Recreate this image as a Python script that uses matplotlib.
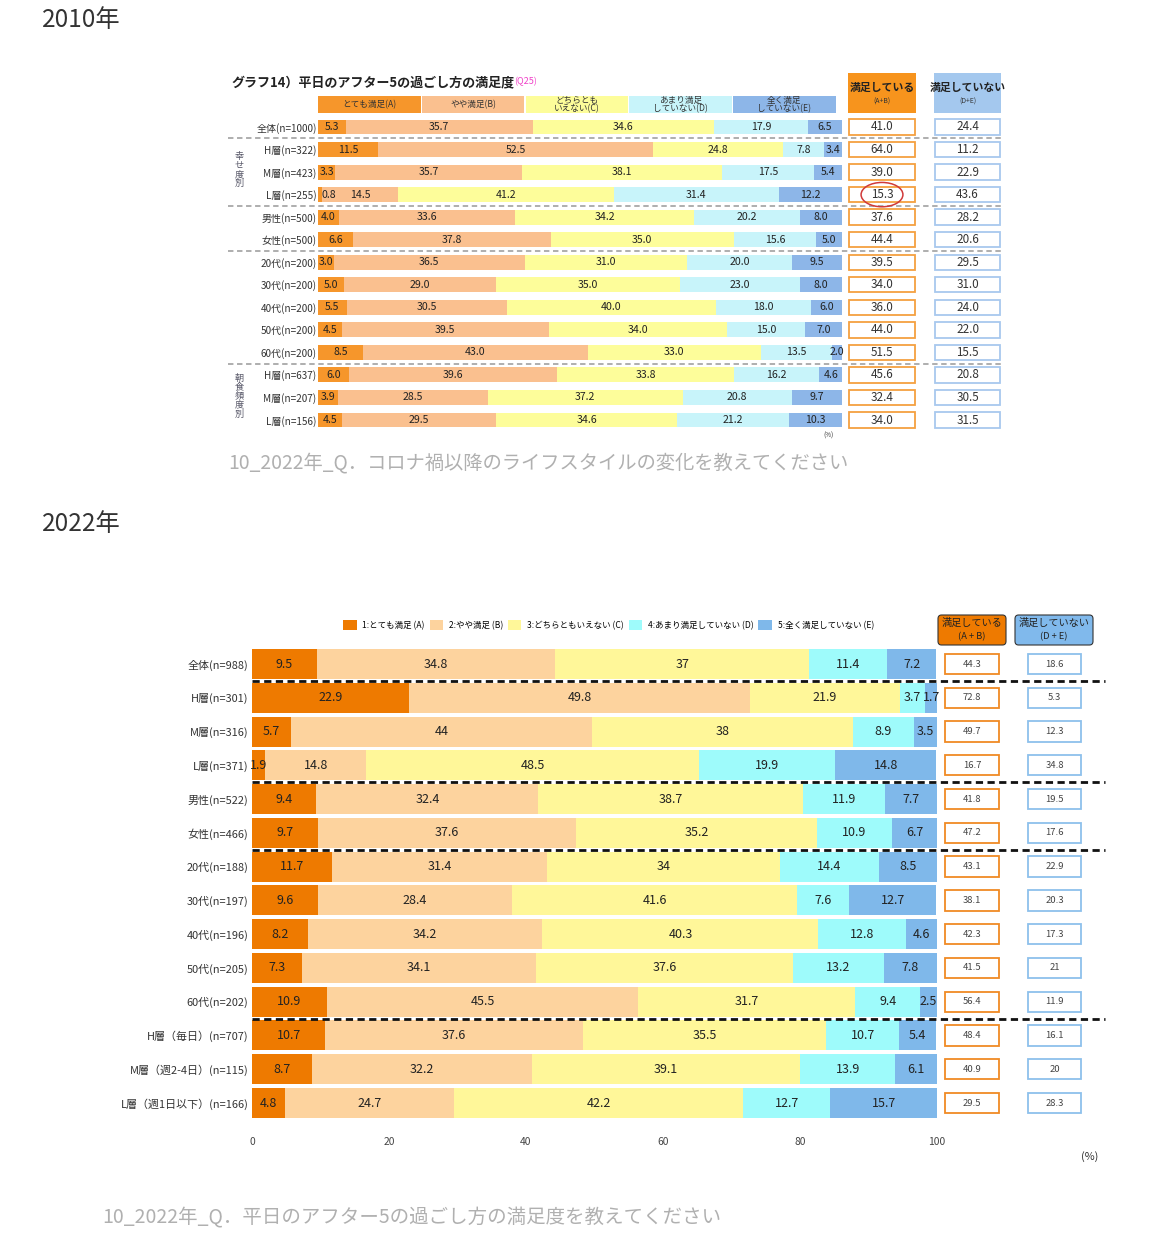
import numpy as np
import matplotlib.pyplot as plt
from matplotlib.patches import FancyBboxPatch, Rectangle, Ellipse

plt.rcParams['font.family'] = ['Noto Sans CJK JP', 'DejaVu Sans']

# ---------------- data: 2010 ----------------
cats_2010 = ["全体(n=1000)", "H層(n=322)", "M層(n=423)", "L層(n=255)",
             "男性(n=500)", "女性(n=500)", "20代(n=200)", "30代(n=200)",
             "40代(n=200)", "50代(n=200)", "60代(n=200)",
             "H層(n=637)", "M層(n=207)", "L層(n=156)"]
a_2010 = [5.3, 11.5, 3.3, 0.8, 4.0, 6.6, 3.0, 5.0, 5.5, 4.5, 8.5, 6.0, 3.9, 4.5]
b_2010 = [35.7, 52.5, 35.7, 14.5, 33.6, 37.8, 36.5, 29.0, 30.5, 39.5, 43.0, 39.6, 28.5, 29.5]
c_2010 = [34.6, 24.8, 38.1, 41.2, 34.2, 35.0, 31.0, 35.0, 40.0, 34.0, 33.0, 33.8, 37.2, 34.6]
d_2010 = [17.9, 7.8, 17.5, 31.4, 20.2, 15.6, 20.0, 23.0, 18.0, 15.0, 13.5, 16.2, 20.8, 21.2]
e_2010 = [6.5, 3.4, 5.4, 12.2, 8.0, 5.0, 9.5, 8.0, 6.0, 7.0, 2.0, 4.6, 9.7, 10.3]
sat_2010 = [41.0, 64.0, 39.0, 15.3, 37.6, 44.4, 39.5, 34.0, 36.0, 44.0, 51.5, 45.6, 32.4, 34.0]
dis_2010 = [24.4, 11.2, 22.9, 43.6, 28.2, 20.6, 29.5, 31.0, 24.0, 22.0, 15.5, 20.8, 30.5, 31.5]
heads_2010 = ["とても満足(A)", "やや満足(B)", "どちらとも\nいえない(C)",
              "あまり満足\nしていない(D)", "全く満足\nしていない(E)"]

# ---------------- data: 2022 ----------------
cats_2022 = ["全体(n=988)", "H層(n=301)", "M層(n=316)", "L層(n=371)",
             "男性(n=522)", "女性(n=466)", "20代(n=188)", "30代(n=197)",
             "40代(n=196)", "50代(n=205)", "60代(n=202)",
             "H層（毎日）(n=707)", "M層（週2-4日）(n=115)", "L層（週1日以下）(n=166)"]
a_2022 = [9.5, 22.9, 5.7, 1.9, 9.4, 9.7, 11.7, 9.6, 8.2, 7.3, 10.9, 10.7, 8.7, 4.8]
b_2022 = [34.8, 49.8, 44, 14.8, 32.4, 37.6, 31.4, 28.4, 34.2, 34.1, 45.5, 37.6, 32.2, 24.7]
c_2022 = [37, 21.9, 38, 48.5, 38.7, 35.2, 34, 41.6, 40.3, 37.6, 31.7, 35.5, 39.1, 42.2]
d_2022 = [11.4, 3.7, 8.9, 19.9, 11.9, 10.9, 14.4, 7.6, 12.8, 13.2, 9.4, 10.7, 13.9, 12.7]
e_2022 = [7.2, 1.7, 3.5, 14.8, 7.7, 6.7, 8.5, 12.7, 4.6, 7.8, 2.5, 5.4, 6.1, 15.7]
sat_2022 = [44.3, 72.8, 49.7, 16.7, 41.8, 47.2, 43.1, 38.1, 42.3, 41.5, 56.4, 48.4, 40.9, 29.5]
dis_2022 = [18.6, 5.3, 12.3, 34.8, 19.5, 17.6, 22.9, 20.3, 17.3, 21, 11.9, 16.1, 20, 28.3]
legend_2022 = ["1:とても満足 (A)", "2:やや満足 (B)", "3:どちらともいえない (C)",
               "4:あまり満足していない (D)", "5:全く満足していない (E)"]
group_breaks = [0.5, 3.5, 5.5, 10.5]

cols_2010 = ['#F6962B', '#FAC08F', '#FDFD9A', '#C8F4FA', '#8DB6E8']
cols_2022 = ['#EE7A00', '#FDD39E', '#FFF799', '#9EFBFB', '#7FB8EA']

W, H = 1176, 1253
fig = plt.figure(figsize=(W / 100, H / 100), dpi=100)


def rect(x0, y0, x1, y1):
    return [x0 / W, 1 - y1 / H, (x1 - x0) / W, (y1 - y0) / H]


def ftext(x, y, s, **kw):
    fig.text(x / W, 1 - y / H, s, **kw)


def stacked(ax, series, colors, height, fs, one_decimal):
    y = np.arange(len(series[0]))
    left = np.zeros(len(y))
    handles = []
    for vals, c in zip(series, colors):
        vals = np.array(vals, float)
        h = ax.barh(y, vals, left=left, height=height, color=c, edgecolor='none')
        handles.append(h)
        for yi, l, v in zip(y, left, vals):
            lab = f"{v:.1f}" if one_decimal else f"{v:g}"
            if v < 1:
                # tiny segment: label just right of its start
                ax.text(l + 0.6, yi, lab, ha='left', va='center', fontsize=fs, color='#222')
            else:
                ax.text(l + v / 2, yi, lab, ha='center', va='center', fontsize=fs, color='#222')
        left += vals
    ax.set_xlim(0, 100)
    ax.set_ylim(len(y) - 0.5, -0.5)
    for s in ax.spines.values():
        s.set_visible(False)
    return handles


def value_col(ax, vals, edge, height, fs, color, one_decimal):
    y = np.arange(len(vals))
    ax.barh(y, 1, height=height, color='white', edgecolor=edge, linewidth=1.3)
    for yi, v in zip(y, vals):
        ax.text(0.5, yi, f"{v:.1f}" if one_decimal else f"{v:g}", ha='center',
                va='center', fontsize=fs, color=color)
    ax.set_xlim(-0.02, 1.02)
    ax.set_ylim(len(vals) - 0.5, -0.5)
    ax.axis('off')


# ==========================================
# 2010
# ==========================================
ftext(42, 20, "2010年", fontsize=17.5, color='#333', va='center')
ftext(231, 82, "グラフ14）平日のアフター5の過ごし方の満足度", fontsize=9.4,
      fontweight='bold', color='#222', va='center')
ftext(514, 82, "(Q25)", fontsize=6.5, color='#F040C8', va='center')

s10 = 22.54
top10, bot10 = 127 - s10 / 2, 420 + s10 / 2
ax_t = fig.add_axes(rect(318, top10, 842, bot10))
stacked(ax_t, [a_2010, b_2010, c_2010, d_2010, e_2010], cols_2010, 0.66, 7.6, True)
ax_t.set_xticks([])
ax_t.set_yticks(np.arange(len(cats_2010)))
ax_t.set_yticklabels(cats_2010)
ax_t.tick_params(axis='y', length=0, pad=1, labelsize=7.2, labelcolor='#333')

# header colour keys
for i, (lab, c) in enumerate(zip(heads_2010, cols_2010)):
    ax_t.barh(-1, 19.6, left=i * 19.8, height=0.76, color=c, clip_on=False)
    ax_t.text(i * 19.8 + 9.8, -1, lab, ha='center', va='center', fontsize=6.2,
              color='#333', linespacing=1.0, clip_on=False)

for yb in group_breaks:
    ax_t.axhline(yb, xmin=-0.172, xmax=1.307, color='#A8A8A8', lw=1.3,
                 dashes=(3, 2), clip_on=False)

ftext(239, 170, "\n".join("幸せ度別"), fontsize=6.6, color='#556', ha='center',
      va='center', linespacing=1.0)
ftext(239, 396, "\n".join("朝食頻度別"), fontsize=6.6, color='#556', ha='center',
      va='center', linespacing=1.0)
ftext(828, 436, "(%)", fontsize=4.5, color='#333', ha='center', va='center')

ax_ts = fig.add_axes(rect(848, top10, 916, bot10))
value_col(ax_ts, sat_2010, '#F5A040', 0.68, 8.4, '#333', True)
ax_ts.add_patch(Ellipse((0.5, 3), 0.64, 1.08, fill=False, edgecolor='#D03A3A', lw=1.1))
ax_td = fig.add_axes(rect(934, top10, 1001, bot10))
value_col(ax_td, dis_2010, '#A8C8EE', 0.68, 8.4, '#333', True)

fig.add_artist(Rectangle((848 / W, 1 - 113 / H), 68 / W, 40 / H, transform=fig.transFigure,
                         facecolor='#F7941D', edgecolor='none'))
fig.add_artist(Rectangle((934 / W, 1 - 113 / H), 67 / W, 40 / H, transform=fig.transFigure,
                         facecolor='#A4C8EE', edgecolor='none'))
ftext(882, 88, "満足している", fontsize=7.8, fontweight='bold', color='#222', ha='center', va='center')
ftext(882, 102, "(A+B)", fontsize=5, color='#333', ha='center', va='center')
ftext(968, 88, "満足していない", fontsize=7.8, fontweight='bold', color='#222', ha='center', va='center')
ftext(968, 102, "(D+E)", fontsize=5, color='#333', ha='center', va='center')

ftext(228, 463, "10_2022年_Q．コロナ禍以降のライフスタイルの変化を教えてください",
      fontsize=13.9, color='#B0B0B0', va='center')

# ==========================================
# 2022
# ==========================================
ftext(42, 524, "2022年", fontsize=17.5, color='#333', va='center')

s22 = (1103 - 664) / 13
top22, bot22 = 664 - s22 / 2, 1103 + s22 / 2
ax_b = fig.add_axes(rect(252, top22, 937, bot22))
handles = stacked(ax_b, [a_2022, b_2022, c_2022, d_2022, e_2022], cols_2022, 0.89, 9, False)
ax_b.set_yticks(np.arange(len(cats_2022)))
ax_b.set_yticklabels(cats_2022)
ax_b.tick_params(axis='y', length=0, pad=2.5, labelsize=7.9, labelcolor='#333')
ax_b.set_xticks(np.arange(0, 101, 20))
ax_b.tick_params(axis='x', length=0, pad=12, labelsize=7.4, labelcolor='#444')
for yb in group_breaks:
    ax_b.axhline(yb, xmin=0, xmax=1.245, color='#111', lw=2, dashes=(2.6, 1.6),
                 clip_on=False)

ax_bs = fig.add_axes(rect(944, top22, 1000, bot22))
value_col(ax_bs, sat_2022, '#F08A24', 0.6, 6.8, '#444', False)
ax_bd = fig.add_axes(rect(1027, top22, 1082, bot22))
value_col(ax_bd, dis_2022, '#8DC0EC', 0.6, 6.8, '#444', False)

for x0, x1, fc, t1, t2 in [(938, 1006, '#EE7A00', "満足している", "(A + B)"),
                           (1015, 1093, '#80B9EC', "満足していない", "(D + E)")]:
    fig.add_artist(FancyBboxPatch((x0 / W, 1 - 645 / H), (x1 - x0) / W, 30 / H,
                                  boxstyle='round,pad=0,rounding_size=0.003',
                                  transform=fig.transFigure, facecolor=fc,
                                  edgecolor='#333', lw=0.8))
    ftext((x0 + x1) / 2, 623, t1, fontsize=7.3, color='#222', ha='center', va='center')
    ftext((x0 + x1) / 2, 637, t2, fontsize=6.7, color='#222', ha='center', va='center')

fig.legend([h[0] for h in handles], legend_2022, loc='center left',
           bbox_to_anchor=(343 / W, 1 - 625 / H), ncol=5, frameon=False,
           fontsize=6.1, handlelength=1.6, handleheight=1.6, handletextpad=0.65,
           columnspacing=0.6, borderpad=0, borderaxespad=0)

ftext(1090, 1157, "(%)", fontsize=7.8, color='#333', ha='center', va='center')
ftext(102, 1218, "10_2022年_Q．平日のアフター5の過ごし方の満足度を教えてください",
      fontsize=14, color='#B0B0B0', va='center')

fig.savefig("out.png", dpi=100)
